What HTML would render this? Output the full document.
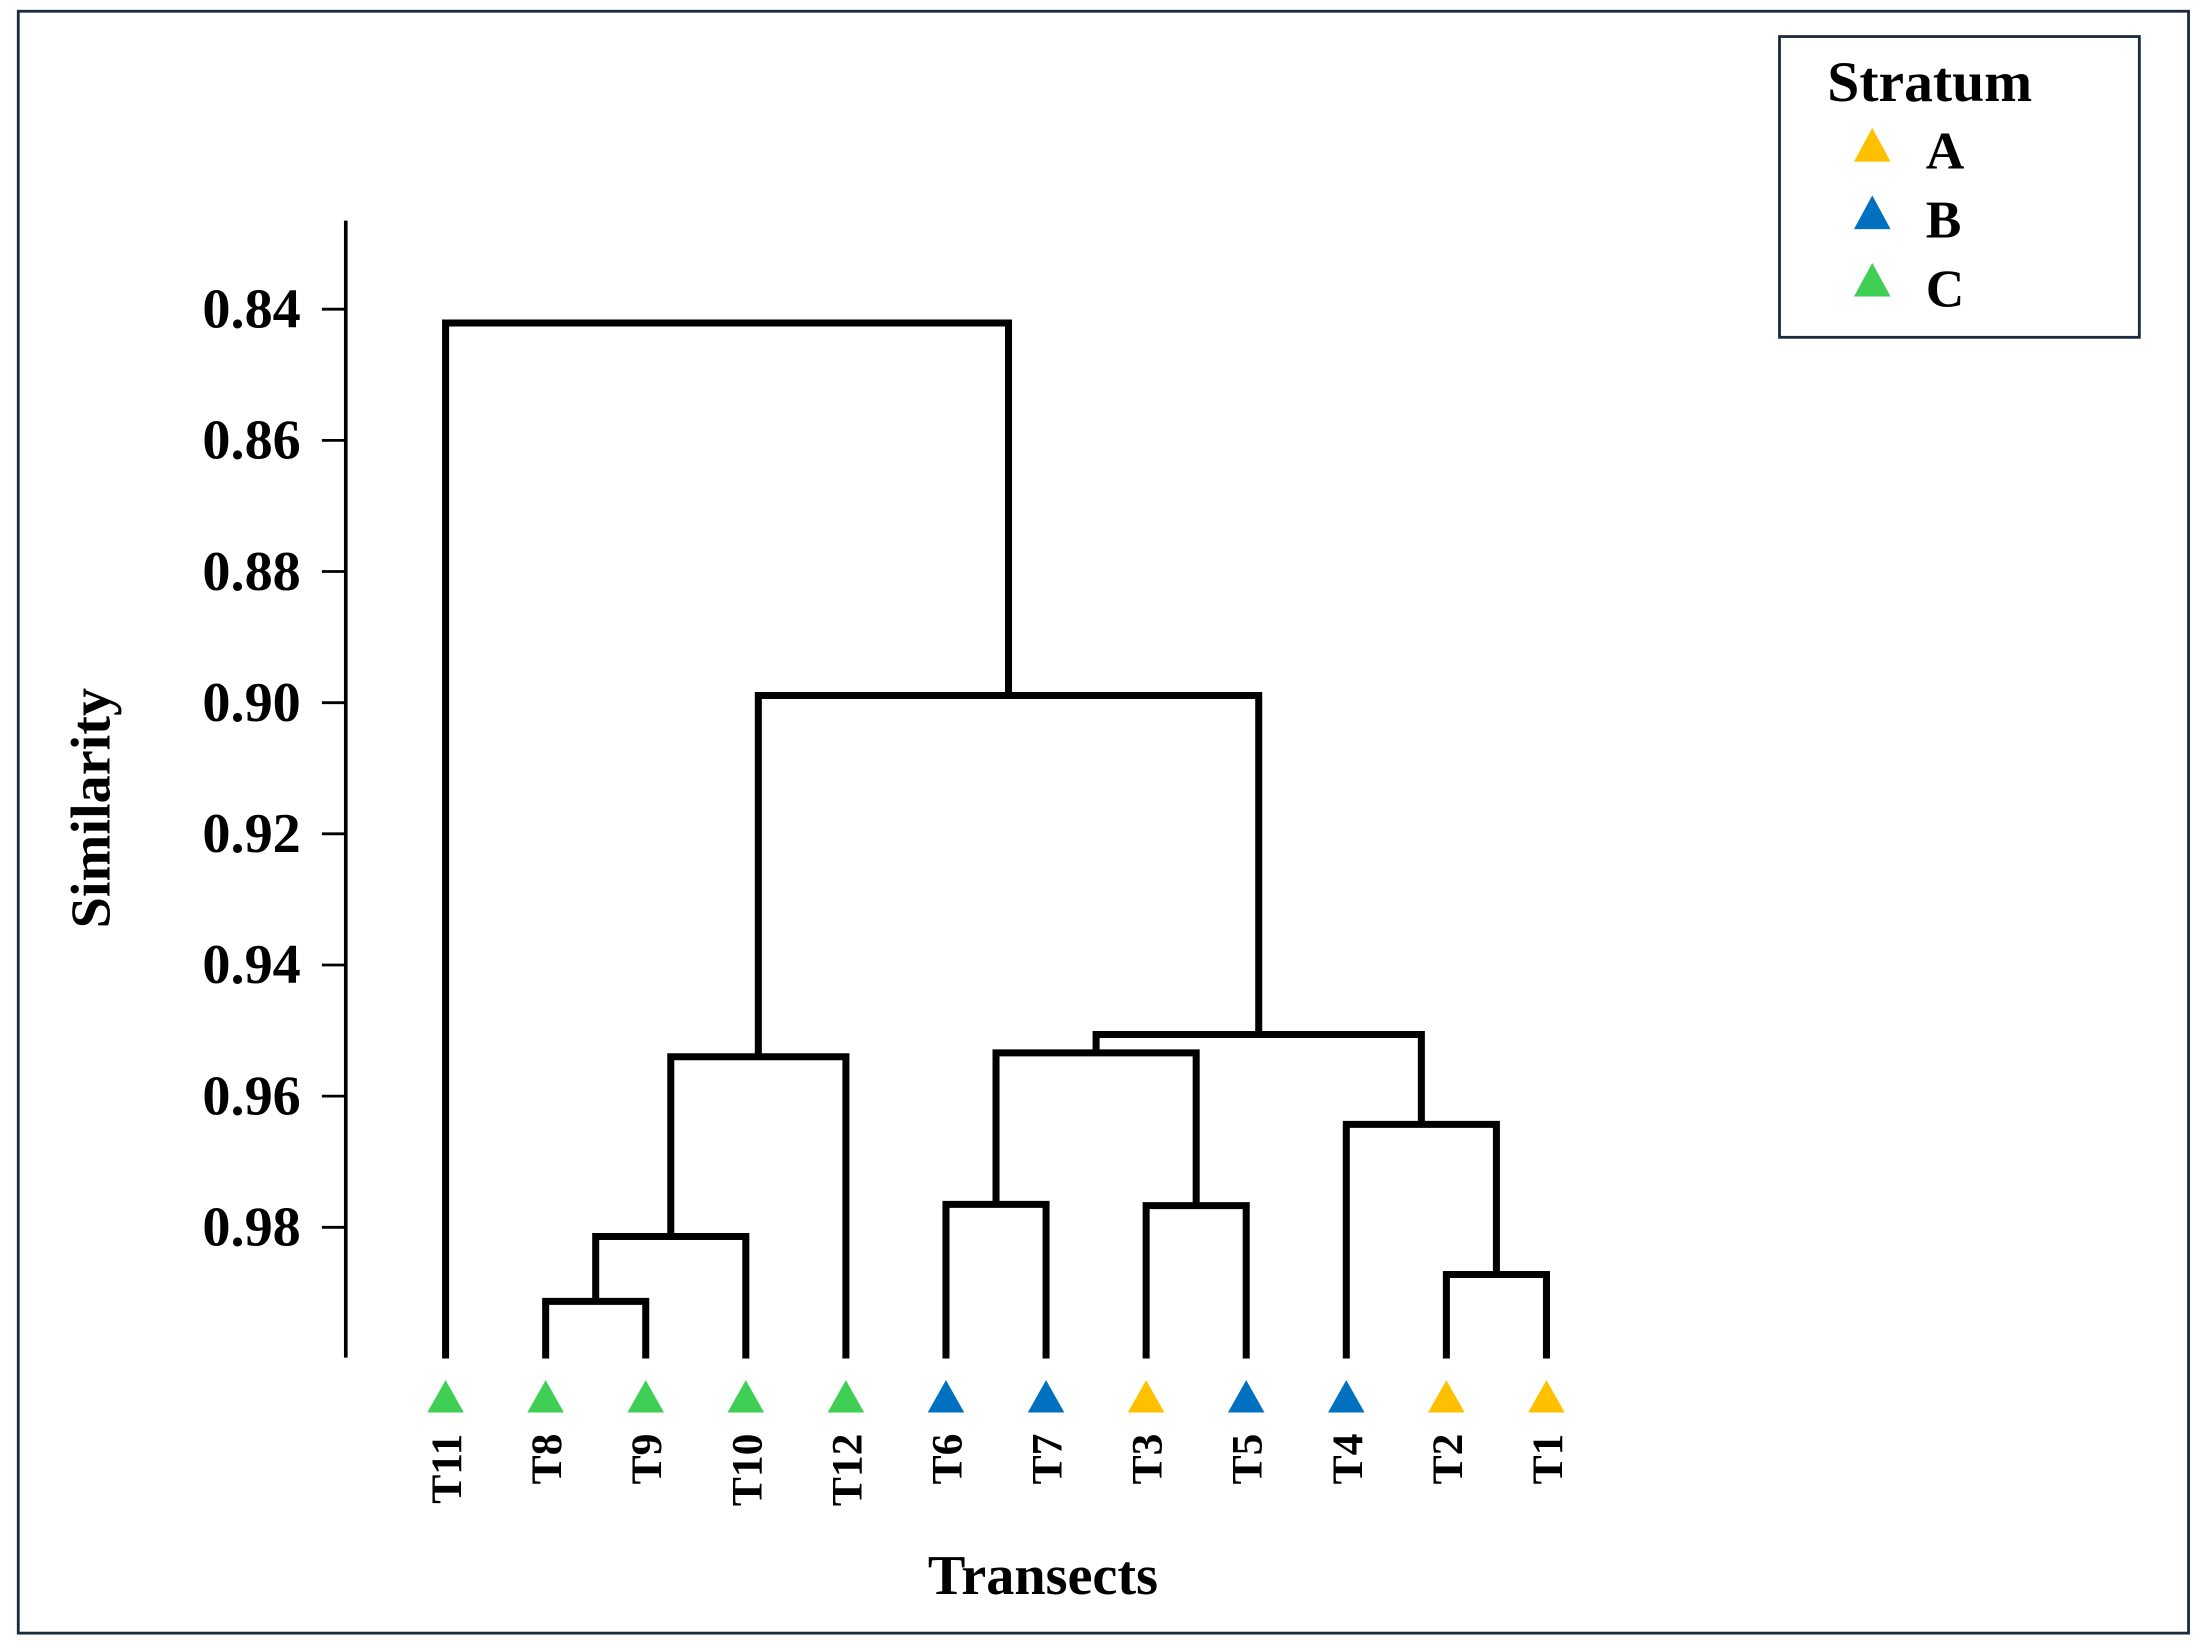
<!DOCTYPE html>
<html><head><meta charset="utf-8"><style>
html,body{margin:0;padding:0;background:#fff}
svg{display:block}
text{font-family:"Liberation Serif",serif;font-weight:bold;fill:#000}
</style></head><body>
<svg id="chart" width="2204" height="1650" viewBox="0 0 1568 1174" preserveAspectRatio="none" xmlns="http://www.w3.org/2000/svg">
<rect x="13" y="8" width="1544" height="1154" fill="#fff" stroke="#1a2b3c" stroke-width="2"/>
<line x1="246" y1="157" x2="246" y2="966" stroke="#000" stroke-width="2.6"/>
<text transform="translate(78,575) rotate(-90)" text-anchor="middle" font-size="40">Similarity</text>
<text x="742" y="1134" text-anchor="middle" font-size="40">Transects</text>
<g id="ticks"></g>
<g id="tree"></g>
<g id="leaves"></g>
<g>
<rect x="1266" y="26" width="256" height="214" fill="#fff" stroke="#1a2b3c" stroke-width="2"/>
<text x="1300" y="72" font-size="41">Stratum</text>
<polygon points="1319,115 1345,115 1332,91" fill="#FFC000"/>
<text x="1370" y="120" font-size="38">A</text>
<polygon points="1319,163 1345,163 1332,139" fill="#0070C0"/>
<text x="1370" y="169" font-size="38">B</text>
<polygon points="1319,211 1345,211 1332,187" fill="#3FCF55"/>
<text x="1370" y="218" font-size="38">C</text>
</g>
</svg>
<script>
const tickValues=[0.84,0.86,0.88,0.90,0.92,0.94,0.96,0.98];
const tickLabels=["0.84","0.86","0.88","0.90","0.92","0.94","0.96","0.98"];
const leafLabels=["T11","T8","T9","T10","T12","T6","T7","T3","T5","T4","T2","T1"];
const leafStrata=["C","C","C","C","C","B","B","A","B","B","A","A"];
// merges: pairs of node ids (leaves 0..11, merges numbered 12+ in order)
const M=[[1,2],[12,3],[5,6],[7,8],[14,15],[10,11],[9,17],[16,18],[13,4],[20,19],[0,21]];
const MH=[0.9913,0.9814,0.9765,0.9767,0.9534,0.9872,0.9643,0.9506,0.954,0.8989,0.8421];
const colors={A:"#FFC000",B:"#0070C0",C:"#3FCF55"};
const NS="http://www.w3.org/2000/svg";
const yS=v=>220+(v-0.84)*4666;
const xL=i=>317+i*71.2;
function mk(tag,attrs,parent){const e=document.createElementNS(NS,tag);for(const k in attrs)e.setAttribute(k,attrs[k]);parent.appendChild(e);return e;}
const tg=document.getElementById('ticks');
tickValues.forEach((v,i)=>{
 const l=mk('line',{x1:229,x2:246,y1:yS(v),y2:yS(v),stroke:'#000','stroke-width':2},tg);
 
 
 const t=mk('text',{x:214,y:yS(v)+13,'text-anchor':'end','font-size':40},tg);
 t.textContent=tickLabels[i];
 
 
});
const nx=[],ny=[];
leafLabels.forEach((_,i)=>{nx[i]=xL(i);ny[i]=1.0;});
const tr=document.getElementById('tree');
M.forEach((m,k)=>{
 const id=12+k,a=m[0],b=m[1],h=MH[k];
 nx[id]=(nx[a]+nx[b])/2;ny[id]=h;
 const p=mk('path',{d:`M${nx[a]},${yS(ny[a])}V${yS(h)}H${nx[b]}V${yS(ny[b])}`,fill:'none',stroke:'#000','stroke-width':5,'stroke-linejoin':'miter'},tr);
 
 
});
const lg=document.getElementById('leaves');
leafLabels.forEach((lab,i)=>{
 const x=xL(i);
 const tri=mk('polygon',{points:`${x-13},1005 ${x+13},1005 ${x},982`,fill:colors[leafStrata[i]]},lg);
 
 
 const t=mk('text',{transform:`translate(${x+11},1020) rotate(-90)`,'text-anchor':'end','font-size':31},lg);
 t.textContent=lab;
 
 
});
</script>
</body></html>
